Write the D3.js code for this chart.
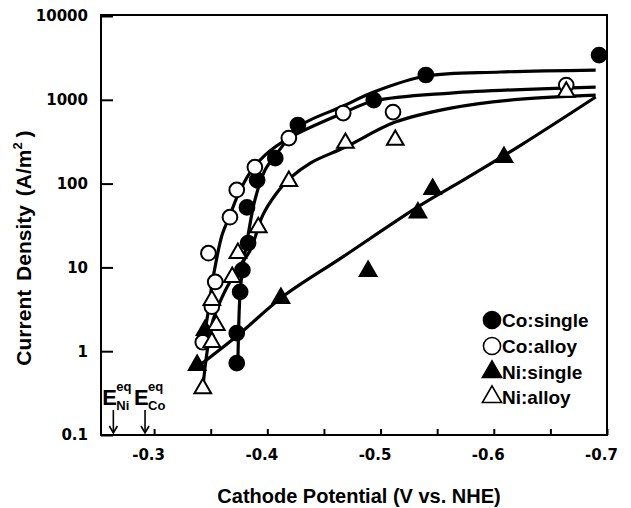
<!DOCTYPE html>
<html>
<head>
<meta charset="utf-8">
<script src="https://cdn.jsdelivr.net/npm/d3@7"></script>
<style>
  body { margin: 0; background: #fff; }
  svg { display: block; }
</style>
</head>
<body>
<svg id="chart"></svg>
<script>
// measured points: potential (V vs NHE), current density (A/m2)
const coSingleV = [-0.373, -0.373, -0.376, -0.378, -0.383, -0.382, -0.391, -0.407, -0.427, -0.494, -0.540, -0.693];
const coSingleI = [0.72, 1.64, 5.1, 9.3, 19.5, 52, 110, 201, 500, 993, 1976, 3420];

const coAlloyV = [-0.343, -0.351, -0.354, -0.348, -0.367, -0.373, -0.389, -0.419, -0.467, -0.511, -0.664];
const coAlloyI = [1.28, 3.4, 6.7, 14.8, 39.8, 84, 157, 349, 695, 714, 1500];

const niSingleV = [-0.338, -0.345, -0.412, -0.489, -0.533, -0.546, -0.609];
const niSingleI = [0.68, 1.78, 4.3, 9.0, 45, 86, 207];

const niAlloyV = [-0.343, -0.351, -0.355, -0.351, -0.369, -0.374, -0.392, -0.419, -0.469, -0.513, -0.664];
const niAlloyI = [0.36, 1.28, 2.04, 4.06, 7.65, 14.8, 30, 107, 305, 331, 1240];

// hand-drawn fit curves of the original figure
const coSingleFitV = [-0.374, -0.376, -0.379, -0.383, -0.389, -0.398, -0.412, -0.427, -0.467, -0.494, -0.540, -0.606, -0.690];
const coSingleFitI = [0.72, 5.06, 11.6, 24.3, 63.5, 145, 265, 473, 842, 1238, 1922, 2145, 2265];

const coAlloyFitV = [-0.343, -0.348, -0.351, -0.355, -0.360, -0.367, -0.374, -0.385, -0.398, -0.419, -0.467, -0.494, -0.562, -0.690];
const coAlloyFitI = [1.25, 3.09, 6.14, 12.2, 24.3, 42, 73, 137, 219, 349, 695, 966, 1204, 1419];

const niSingleFitV = [-0.337, -0.374, -0.413, -0.465, -0.535, -0.573, -0.624, -0.690];
const niSingleFitI = [0.63, 1.55, 4.41, 12.9, 55, 110, 288, 1079];

const niAlloyFitV = [-0.343, -0.347, -0.352, -0.363, -0.376, -0.385, -0.396, -0.407, -0.420, -0.438, -0.469, -0.513, -0.562, -0.624, -0.690];
const niAlloyFitI = [0.36, 1.03, 2.34, 5.35, 10.6, 16.1, 42, 73, 116, 176, 273, 542, 796, 1021, 1140];

const xTicks = [-0.3, -0.4, -0.5, -0.6, -0.7];
const xMinorTicks = [-0.35, -0.45, -0.55, -0.65];
const yTicks = [0.1, 1, 10, 100, 1000, 10000];

const legendLabels = ["Co:single", "Co:alloy", "Ni:single", "Ni:alloy"];
const eqLabels = ["Ni", "Co"];
const eqPotentials = [-0.264, -0.292];

function zip(vs, is) {
  return vs.map((v, i) => ({ v: v, i: is[i] }));
}

const series = [
  { name: legendLabels[0], shape: "circle", filled: true, pts: zip(coSingleV, coSingleI), fit: zip(coSingleFitV, coSingleFitI) },
  { name: legendLabels[1], shape: "circle", filled: false, pts: zip(coAlloyV, coAlloyI), fit: zip(coAlloyFitV, coAlloyFitI) },
  { name: legendLabels[2], shape: "triangle", filled: true, pts: zip(niSingleV, niSingleI), fit: zip(niSingleFitV, niSingleFitI) },
  { name: legendLabels[3], shape: "triangle", filled: false, pts: zip(niAlloyV, niAlloyI), fit: zip(niAlloyFitV, niAlloyFitI) }
];

function getConfig() {
  const dimensions = {
    width: 631,
    height: 508,
    margin: { top: 16, bottom: 73, left: 101, right: 24 }
  };
  const svg = d3.select("#chart")
    .attr("width", dimensions.width)
    .attr("height", dimensions.height);
  return {
    dimensions,
    container: svg,
    inner: {
      width: dimensions.width - dimensions.margin.left - dimensions.margin.right,
      height: dimensions.height - dimensions.margin.top - dimensions.margin.bottom
    }
  };
}

function getScales(config) {
  const { margin } = config.dimensions;
  const xScale = d3.scaleLinear()
    .domain([-0.2531, -0.7])
    .range([margin.left, margin.left + config.inner.width]);
  const yScale = d3.scaleLog()
    .domain([0.1, 10000])
    .range([margin.top + config.inner.height, margin.top]);
  return { xScale, yScale };
}

function drawAxes(config, scales) {
  const { container, dimensions, inner } = config;
  const { xScale, yScale } = scales;
  const bottom = dimensions.margin.top + inner.height;

  const axisY = d3.axisLeft(yScale)
    .tickValues(yTicks)
    .tickFormat(d => String(d))
    .tickSize(-12)
    .tickPadding(13);
  const gy = container.append("g")
    .attr("transform", `translate(${dimensions.margin.left},0)`)
    .call(axisY);
  gy.select(".domain").remove();
  gy.selectAll("line").attr("stroke", "#000").attr("stroke-width", 2);
  gy.selectAll("text")
    .attr("font-family", "DejaVu Sans")
    .attr("font-weight", "bold")
    .attr("font-size", 15)
    .attr("fill", "#000");

  const axisX = d3.axisBottom(xScale)
    .tickValues(xTicks)
    .tickFormat(d => d.toFixed(1))
    .tickSize(-6)
    .tickPadding(14);
  const gx = container.append("g")
    .attr("transform", `translate(0,${bottom})`)
    .call(axisX);
  gx.select(".domain").remove();
  gx.selectAll("line").attr("stroke", "#000").attr("stroke-width", 2);
  gx.selectAll("text")
    .attr("dx", -6)
    .attr("font-family", "DejaVu Sans")
    .attr("font-weight", "bold")
    .attr("font-size", 15)
    .attr("fill", "#000");

  const minorX = d3.axisBottom(xScale)
    .tickValues(xMinorTicks)
    .tickFormat("")
    .tickSize(-6);
  const gm = container.append("g")
    .attr("transform", `translate(0,${bottom})`)
    .call(minorX);
  gm.select(".domain").remove();
  gm.selectAll("line").attr("stroke", "#000").attr("stroke-width", 2);

  // frame
  container.append("rect")
    .attr("x", dimensions.margin.left)
    .attr("y", dimensions.margin.top - 1)
    .attr("width", inner.width)
    .attr("height", inner.height + 1)
    .attr("fill", "none")
    .attr("stroke", "#000")
    .attr("stroke-width", 2);
}

function addAxisLabels(config) {
  const { container } = config;
  container.append("text")
    .attr("text-anchor", "middle")
    .attr("x", 359)
    .attr("y", 503)
    .attr("font-family", "Liberation Sans")
    .attr("font-weight", "bold")
    .attr("font-size", 20)
    .text("Cathode Potential (V vs. NHE)");

  const yt = container.append("text")
    .attr("text-anchor", "middle")
    .attr("transform", "translate(31,248)rotate(-90)")
    .attr("font-family", "Liberation Sans")
    .attr("font-weight", "bold")
    .attr("font-size", 21)
    .attr("word-spacing", 3);
  yt.append("tspan").text("Current Density (A/m");
  yt.append("tspan").attr("dy", -9).attr("font-size", 13).text("2");
  yt.append("tspan").attr("dy", 9).attr("dx", 5).text(")");
}

function markerPath(shape, size) {
  const type = shape === "circle" ? d3.symbolCircle : d3.symbolTriangle;
  return d3.symbol().type(type).size(size)();
}

function drawSeries(config, scales) {
  const { container } = config;
  const { xScale, yScale } = scales;

  const line = d3.line()
    .x(d => xScale(d.v))
    .y(d => yScale(d.i))
    .curve(d3.curveCatmullRom.alpha(0.5));

  container.append("g")
    .selectAll("path")
    .data(series)
    .enter()
    .append("path")
    .attr("d", s => line(s.fit))
    .attr("fill", "none")
    .attr("stroke", "#000")
    .attr("stroke-width", 3.2)
    .attr("stroke-linejoin", "round");

  series.forEach(s => {
    container.append("g")
      .selectAll("path")
      .data(s.pts)
      .enter()
      .append("path")
      .attr("transform", d => `translate(${xScale(d.v)},${yScale(d.i)})`)
      .attr("d", markerPath(s.shape, s.shape === "circle" ? 170 : 120))
      .attr("fill", s.filled ? "#000" : "#fff")
      .attr("stroke", "#000")
      .attr("stroke-width", 2);
  });
}

function drawLegend(config) {
  const { container } = config;
  const rowY = [320, 346, 372, 397];
  const lg = container.append("g").attr("transform", "translate(492,0)");
  series.forEach((s, idx) => {
    lg.append("path")
      .attr("transform", `translate(0,${rowY[idx]})`)
      .attr("d", markerPath(s.shape, s.shape === "circle" ? 230 : 160))
      .attr("fill", s.filled ? "#000" : "#fff")
      .attr("stroke", "#000")
      .attr("stroke-width", 1.6);
    lg.append("text")
      .attr("x", 10)
      .attr("y", rowY[idx] + 7)
      .attr("font-family", "Liberation Sans")
      .attr("font-weight", "bold")
      .attr("font-size", 19)
      .text(s.name);
  });
}

function drawEquilibrium(config, scales) {
  const { container, dimensions, inner } = config;
  const { xScale } = scales;
  const bottom = dimensions.margin.top + inner.height;
  eqPotentials.forEach((v, idx) => {
    const x = xScale(v);
    const g = container.append("g");
    g.append("line")
      .attr("x1", x).attr("x2", x)
      .attr("y1", 410).attr("y2", bottom - 2)
      .attr("stroke", "#000").attr("stroke-width", 1.6);
    g.append("path")
      .attr("d", `M${x - 4},${bottom - 9}L${x},${bottom - 2}L${x + 4},${bottom - 9}`)
      .attr("fill", "none").attr("stroke", "#000").attr("stroke-width", 1.6);
    g.append("text")
      .attr("x", x - 11)
      .attr("y", 405)
      .attr("font-family", "Liberation Sans Narrow, Liberation Sans")
      .attr("font-weight", "bold")
      .attr("font-size", 22)
      .text("E");
    g.append("text")
      .attr("x", x + 3)
      .attr("y", 391)
      .attr("font-family", "Liberation Sans")
      .attr("font-weight", "bold")
      .attr("font-size", 13)
      .text("eq");
    g.append("text")
      .attr("x", x + 3)
      .attr("y", 410)
      .attr("font-family", "Liberation Sans")
      .attr("font-weight", "bold")
      .attr("font-size", 13)
      .text(eqLabels[idx]);
  });
}

function renderChart() {
  const config = getConfig();
  const scales = getScales(config);
  drawAxes(config, scales);
  drawSeries(config, scales);
  drawLegend(config);
  drawEquilibrium(config, scales);
  addAxisLabels(config);
}

renderChart();
</script>
</body>
</html>
